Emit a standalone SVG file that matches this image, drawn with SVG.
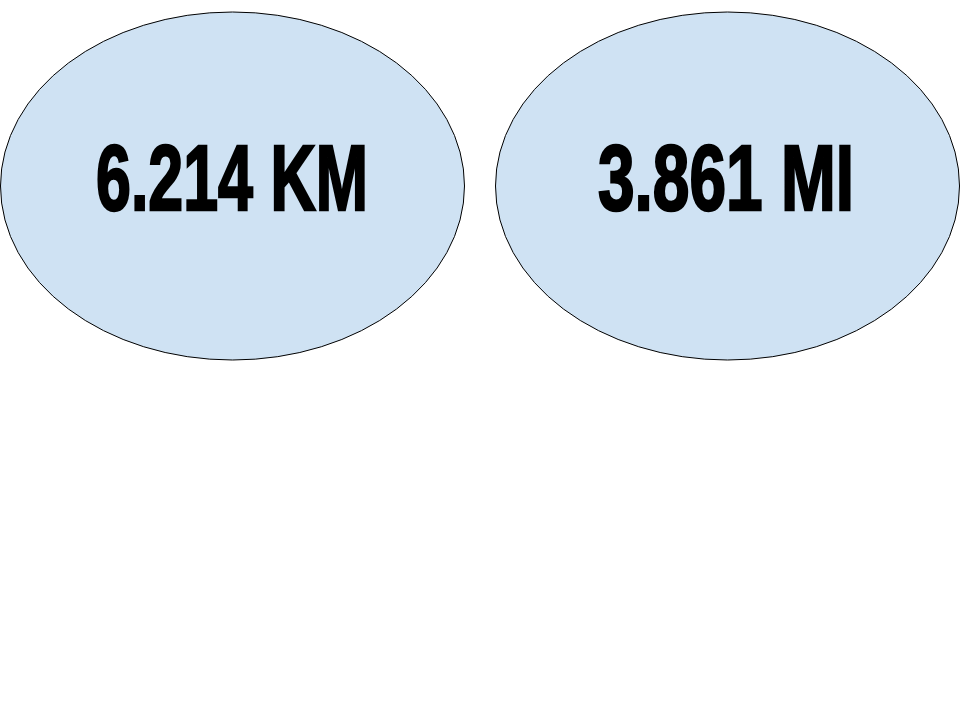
<svg xmlns="http://www.w3.org/2000/svg" width="960" height="720" viewBox="0 0 960 720">
  <style>
    .node { fill: #cfe2f3; stroke: #000000; stroke-width: 1; }
    .label { font-family: "Liberation Sans", Arial, sans-serif; font-weight: bold; font-size: 92px; fill: #000000; stroke: #000000; stroke-width: 2.5; stroke-linejoin: miter; }
  </style>
  <rect x="0" y="0" width="960" height="720" fill="#ffffff"/>
  <g id="connectors"></g>
  <g id="node-km">
    <ellipse class="node" cx="232.5" cy="186" rx="232" ry="174"/>
    <text class="label" x="96" y="210" textLength="272" lengthAdjust="spacingAndGlyphs">6.214 KM</text>
  </g>
  <g id="node-mi">
    <ellipse class="node" cx="727.5" cy="186" rx="232" ry="174"/>
    <text class="label" x="598" y="210" textLength="256" lengthAdjust="spacingAndGlyphs">3.861 MI</text>
  </g>
</svg>
